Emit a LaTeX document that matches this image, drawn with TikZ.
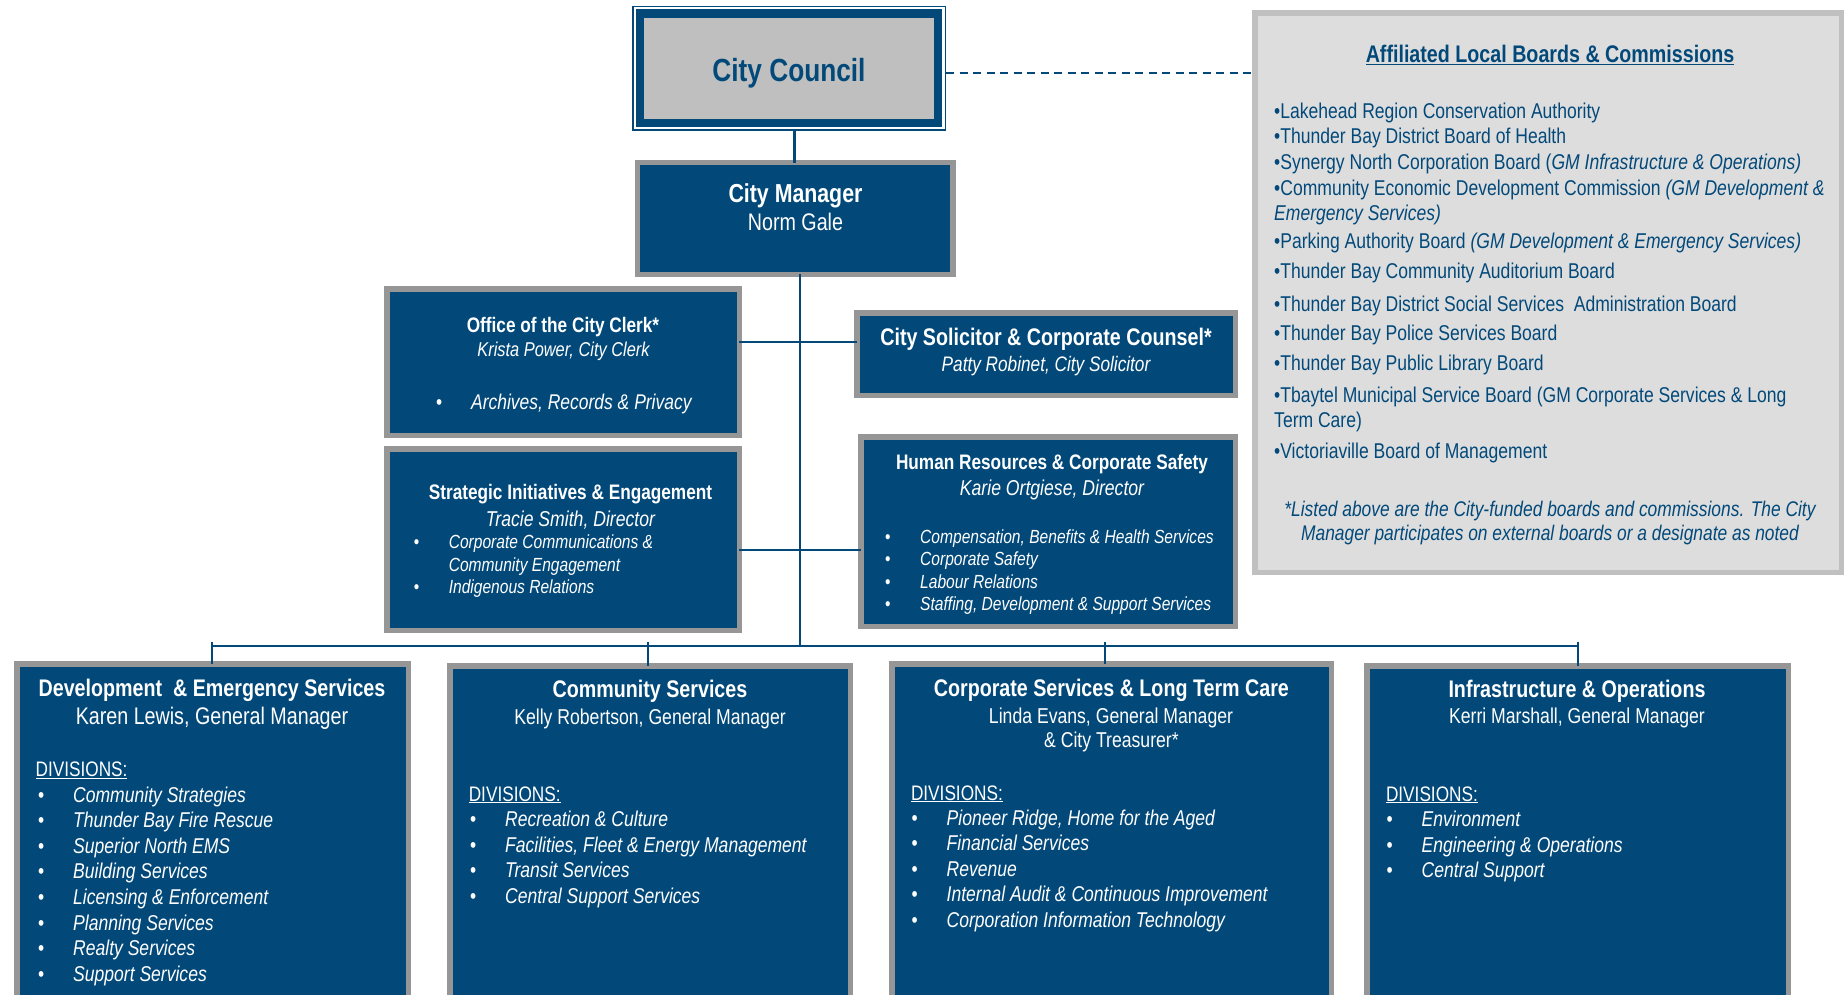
\documentclass[tikz,border=0pt]{standalone}
\usepackage{fontspec}
\setmainfont[FakeStretch=0.82]{Liberation Sans}
\usepackage{tikz}
\usetikzlibrary{positioning}
\usetikzlibrary{calc}
\definecolor{navy}{RGB}{2,73,122}
\definecolor{framegray}{RGB}{150,150,150}
\definecolor{councilgray}{RGB}{191,191,191}
\definecolor{panelgray}{RGB}{221,221,221}
\definecolor{panelframe}{RGB}{192,192,192}
\newcommand{\pxfont}[1]{\fontsize{#1}{#1}\selectfont}
\newcommand{\bul}{\makebox[35pt][l]{\upshape\textbullet}}
\tikzstyle{unit}=[rectangle,fill=navy,draw=framegray,line width=5.5pt,inner sep=0pt,outer sep=0pt]
\tikzstyle{link}=[draw=navy,line width=2pt]
\tikzstyle{wtext}=[text=white,inner sep=0pt,anchor=base]
\tikzstyle{btext}=[text=navy,inner sep=0pt,anchor=base]
\tikzstyle{divitem}=[text=white,inner sep=0pt,anchor=base west,font=\pxfont{21.4}\itshape]
\tikzstyle{boarditem}=[text=navy,inner sep=0pt,anchor=base west,font=\pxfont{21.4}]
\begin{document}
\begin{tikzpicture}[x=1pt,y=-1pt]
    \useasboundingbox (0,0) rectangle (1845,994);
    \clip (0,0) rectangle (1845,994);

    % Council, manager and the boards panel
    \node[draw=navy,line width=1.5pt,minimum width=312.5pt,minimum height=123.5pt,inner sep=0pt] (ccframe) at (789,68.25) {};
    \node[fill=councilgray,draw=navy,line width=8.5pt,minimum width=298pt,minimum height=109.5pt,inner sep=0pt] (cc) at (789,68.25) {};
    \node[btext,font=\pxfont{32}\bfseries] (cctext) at (789,81) {City Council};

    \node[unit,minimum width=315.5pt,minimum height=111.75pt] (cm) at (795.3,218.6) {};
    \node[wtext,font=\pxfont{26}\bfseries] (cmtitle) at (795.5,202) {City Manager};
    \node[wtext,font=\pxfont{24}] (cmname) at (795.5,230.5) {Norm Gale};

    \node[fill=panelgray,draw=panelframe,line width=5.5pt,minimum width=586.5pt,minimum height=559.5pt,inner sep=0pt] (boards) at (1548,292.5) {};
    \node[btext,font=\pxfont{24}\bfseries] (boardstitle) at (1550,62.7) {\underline{Affiliated Local Boards \& Commissions}};
    \foreach \y/\t [count=\i] in {118.3/{\textbullet Lakehead Region Conservation Authority},
        143.3/{\textbullet Thunder Bay District Board of Health},
        169.3/{\textbullet Synergy North Corporation Board (\textit{GM Infrastructure \& Operations)}},
        195/{\textbullet Community Economic Development Commission \textit{(GM Development \&}},
        220/{\textit{Emergency Services)}},
        248.3/{\textbullet Parking Authority Board \textit{(GM Development \& Emergency Services)}},
        278.3/{\textbullet Thunder Bay Community Auditorium Board},
        311/{\textbullet Thunder Bay District Social Services\ \ Administration Board},
        340/{\textbullet Thunder Bay Police Services Board},
        370.7/{\textbullet Thunder Bay Public Library Board},
        402.3/{\textbullet Tbaytel Municipal Service Board (GM Corporate Services \& Long},
        427.3/{Term Care)},
        458.3/{\textbullet Victoriaville Board of Management}}
        \node[boarditem] (board\i) at (1274,\y) {\t};
    \node[btext,font=\pxfont{21.2}\itshape] (note1) at (1550,516.7) {*Listed above are the City-funded boards and commissions. The City};
    \node[btext,font=\pxfont{21.2}\itshape] (note2) at (1550,540.7) {Manager participates on external boards or a designate as noted};

    % Offices reporting to the manager
    \node[unit,minimum width=352.5pt,minimum height=146.5pt] (clerk) at (563,362) {};
    \node[wtext,font=\pxfont{21}\bfseries] (clerktitle) at (563,332) {Office of the City Clerk*};
    \node[wtext,font=\pxfont{20}\itshape] (clerkname) at (563.5,356.5) {Krista Power, City Clerk};
    \node[divitem,font=\pxfont{21.3}\itshape] (clerk1) at (436,409) {\bul Archives, Records \& Privacy};

    \node[unit,minimum width=378.5pt,minimum height=82.5pt] (sol) at (1046,354) {};
    \node[wtext,font=\pxfont{24}\bfseries] (soltitle) at (1046,345) {City Solicitor \& Corporate Counsel*};
    \node[wtext,font=\pxfont{21}\itshape] (solname) at (1046,371.5) {Patty Robinet, City Solicitor};

    \node[unit,minimum width=352.5pt,minimum height=181.5pt] (sie) at (563,539.5) {};
    \node[wtext,font=\pxfont{21}\bfseries] (sietitle) at (570.5,499.3) {Strategic Initiatives \& Engagement};
    \node[wtext,font=\pxfont{21.5}\itshape] (siename) at (570.5,526) {Tracie Smith, Director};
    \node[divitem,font=\pxfont{19}\itshape] (sie1) at (413.6,548.3) {\bul Corporate Communications \&};
    \node[divitem,font=\pxfont{19}\itshape] (sie2) at (448.6,571.7) {Community Engagement};
    \node[divitem,font=\pxfont{19}\itshape] (sie3) at (413.6,593.3) {\bul Indigenous Relations};

    \node[unit,minimum width=374.5pt,minimum height=189.5pt] (hr) at (1048,531.5) {};
    \node[wtext,font=\pxfont{21}\bfseries] (hrtitle) at (1052,469.3) {Human Resources \& Corporate Safety};
    \node[wtext,font=\pxfont{21.5}\itshape] (hrname) at (1052,495) {Karie Ortgiese, Director};
    \foreach \t [count=\i] in {{Compensation, Benefits \& Health Services}, Corporate Safety, Labour Relations,
        {Staffing, Development \& Support Services}}
        \node[divitem,font=\pxfont{19}\itshape] (hr\i) at (885,{543.3+22.5*(\i-1)}) {\bul\t};

    % General managers
    \node[unit,minimum width=391.5pt,minimum height=400pt] (dev) at (212.5,863.75) {};
    \node[wtext,font=\pxfont{24}\bfseries] (devtitle) at (212,696.7) {Development\ \ \& Emergency Services};
    \node[wtext,font=\pxfont{24}] (devname) at (212,724.3) {Karen Lewis, General Manager};
    \node[divitem,font=\pxfont{21}] (devdiv) at (35.4,776.7) {\underline{DIVISIONS:}};
    \foreach \t [count=\i] in {Community Strategies, Thunder Bay Fire Rescue, Superior North EMS, Building Services,
        Licensing \& Enforcement, Planning Services, Realty Services, Support Services}
        \node[divitem] (dev\i) at (38,{802+25.6*(\i-1)}) {\bul\t};

    \node[unit,minimum width=400.5pt,minimum height=400pt] (comm) at (650,865.75) {};
    \node[wtext,font=\pxfont{24}\bfseries] (commtitle) at (650,697.7) {Community Services};
    \node[wtext,font=\pxfont{21.5}] (commname) at (650,724.3) {Kelly Robertson, General Manager};
    \node[divitem,font=\pxfont{21}] (commdiv) at (468.6,801) {\underline{DIVISIONS:}};
    \foreach \t [count=\i] in {Recreation \& Culture, {Facilities, Fleet \& Energy Management}, Transit Services,
        Central Support Services}
        \node[divitem] (comm\i) at (470,{826.7+25.6*(\i-1)}) {\bul\t};

    \node[unit,minimum width=439.5pt,minimum height=400pt] (corp) at (1111.5,863.75) {};
    \node[wtext,font=\pxfont{24}\bfseries] (corptitle) at (1111.4,696.7) {Corporate Services \& Long Term Care};
    \node[wtext,font=\pxfont{21.5}] (corpname) at (1111,723.3) {Linda Evans, General Manager};
    \node[wtext,font=\pxfont{21.5}] (corpname2) at (1111.4,747.3) {\& City Treasurer*};
    \node[divitem,font=\pxfont{21}] (corpdiv) at (910.8,800) {\underline{DIVISIONS:}};
    \foreach \t [count=\i] in {{Pioneer Ridge, Home for the Aged}, Financial Services, Revenue,
        Internal Audit \& Continuous Improvement, Corporation Information Technology}
        \node[divitem] (corp\i) at (911.5,{825+25.6*(\i-1)}) {\bul\t};

    \node[unit,minimum width=421.5pt,minimum height=400pt] (infra) at (1577.5,865.75) {};
    \node[wtext,font=\pxfont{24}\bfseries] (infratitle) at (1577,697.7) {Infrastructure \& Operations};
    \node[wtext,font=\pxfont{21.5}] (infraname) at (1577,723.3) {Kerri Marshall, General Manager};
    \node[divitem,font=\pxfont{21}] (infradiv) at (1385.8,801) {\underline{DIVISIONS:}};
    \foreach \t [count=\i] in {Environment, Engineering \& Operations, Central Support}
        \node[divitem] (infra\i) at (1386.5,{826.7+25.6*(\i-1)}) {\bul\t};

    % Connectors
    \coordinate (ccdrop) at (794,0);
    \coordinate (dashy) at (0,72.7);
    \coordinate (cs) at (800,342);
    \coordinate (hs) at (800,549.5);
    \coordinate (hub) at (800,646);
    \coordinate (b1) at (212,646);
    \coordinate (b2) at (648,646);
    \coordinate (b3) at (1105,646);
    \coordinate (b4) at (1578,646);
    \draw[navy,line width=3pt] (ccframe.south -| ccdrop) -- (cm.north -| ccdrop);
    \draw[link,dash pattern=on 8pt off 5.5pt] (ccframe.east |- dashy) -- (boards.west |- dashy);
    \draw[link] (cm.south -| hub) -- (hub);
    \draw[link] (clerk.east |- cs) -- (sol.west |- cs);
    \draw[link] (sie.east |- hs) -- (hr.west |- hs);
    \draw[link] (b1) -- (b4);
    \foreach \b/\dest in {b1/dev, b2/comm, b3/corp, b4/infra}
        \draw[link,line width=2.5pt] ($(\b)+(0,-4)$) -- (\dest.north -| \b);
\end{tikzpicture}
\end{document}
